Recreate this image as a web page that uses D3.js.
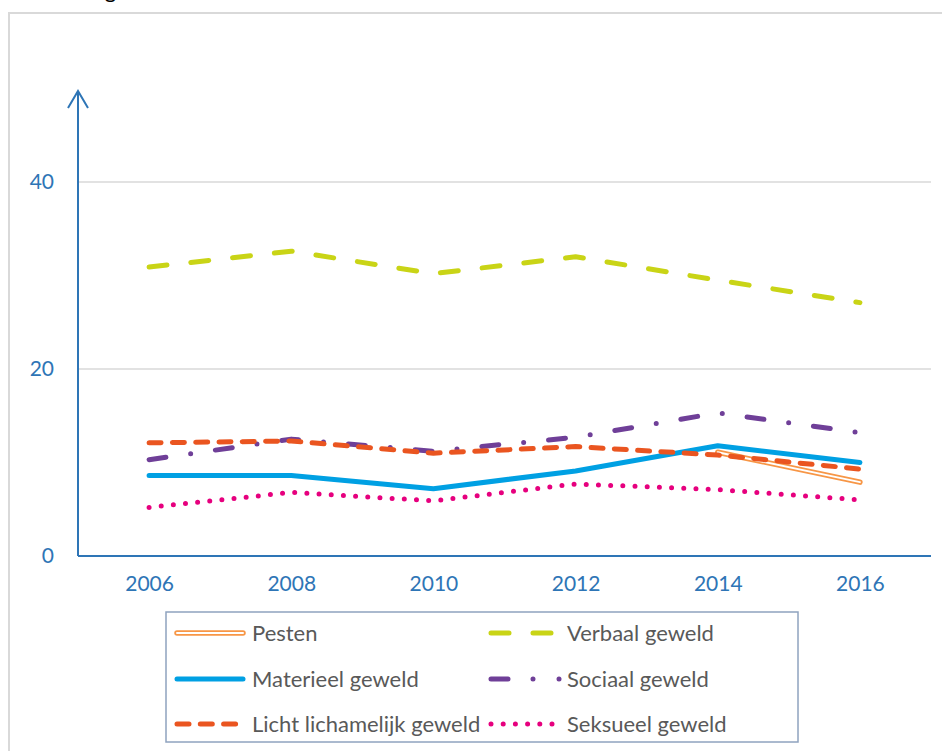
<!DOCTYPE html>
<html><head><meta charset="utf-8">
<script src="https://cdn.jsdelivr.net/npm/d3@7"></script>
<style>body{margin:0;background:#fff}svg{display:block}</style>
</head><body>
<script>
const years = ["2006","2008","2010","2012","2014","2016"];
const yTicks = [0,20,40];
const pesten = [null,null,null,null,11.1,7.9];
const verbaal = [30.9,32.6,30.2,32.0,29.5,27.1];
const materieel = [8.6,8.6,7.2,9.1,11.8,10.0];
const sociaal = [10.3,12.5,11.2,12.7,15.3,13.2];
const licht = [12.1,12.3,11.0,11.7,10.8,9.3];
const seksueel = [5.2,6.8,5.9,7.7,7.1,6.0];
const seriesNames = ["Pesten","Verbaal geweld","Materieel geweld","Sociaal geweld","Licht lichamelijk geweld","Seksueel geweld"];

const W=942,H=751;
const svg=d3.select("body").append("svg").attr("width",W).attr("height",H);
const font="Lato, 'Open Sans', sans-serif";

// outer frame
svg.append("rect").attr("x",9).attr("y",13).attr("width",940).attr("height",760)
  .attr("fill","none").attr("stroke","#d9d9d9").attr("stroke-width",2);
// clipped title remnant (cut off at the top edge, as in the reference)
svg.append("text").attr("x",20).attr("y",-2).attr("font-family",font).attr("font-size",22)
  .attr("fill","#000").text("Percentage");

const x=d3.scalePoint().domain(years).range([78,931]).padding(0.5);
const y=d3.scaleLinear().domain([0,50]).range([556,88.5]);

// gridlines
svg.append("g").selectAll("line").data(yTicks.filter(d=>d>0)).join("line")
  .attr("x1",78).attr("x2",931).attr("y1",d=>y(d)).attr("y2",d=>y(d))
  .attr("stroke","#d9d9d9").attr("stroke-width",1.5);

const axisColor="#2E75B6";
// y axis
const ya=svg.append("g").attr("transform","translate(78,0)")
  .call(d3.axisLeft(y).tickValues(yTicks).tickSize(0).tickPadding(24).tickFormat(d3.format("d")));
ya.select(".domain").remove();
ya.selectAll("text").attr("font-family",font).attr("font-size",21).attr("fill",axisColor);
svg.append("line").attr("x1",78).attr("x2",78).attr("y1",y(0)).attr("y2",91)
  .attr("stroke",axisColor).attr("stroke-width",2);
svg.append("path").attr("d",`M68,108 L78,91 L88,108`).attr("fill","none")
  .attr("stroke",axisColor).attr("stroke-width",2);

// x axis
const xa=svg.append("g").attr("transform",`translate(0,${y(0)})`)
  .call(d3.axisBottom(x).tickSize(0).tickPadding(20));
xa.select(".domain").attr("stroke",axisColor).attr("stroke-width",2).attr("d","M78,0H931");
xa.selectAll("text").attr("font-family",font).attr("font-size",21).attr("fill",axisColor);

const styles={
  "Pesten":{data:pesten,color:"#F79646",double:true},
  "Verbaal geweld":{data:verbaal,color:"#C9D416",dash:"18,24"},
  "Materieel geweld":{data:materieel,color:"#00A0E3"},
  "Sociaal geweld":{data:sociaal,color:"#6F3F98",dash:"17,25,0,25"},
  "Licht lichamelijk geweld":{data:licht,color:"#EA5520",dash:"12,11.3"},
  "Seksueel geweld":{data:seksueel,color:"#E6007E",dash:"0,12.2"}
};
const line=d3.line().defined(d=>d.v!=null).x(d=>x(d.k)).y(d=>y(d.v)).curve(d3.curveLinear);
const order=["Verbaal geweld","Seksueel geweld","Sociaal geweld","Materieel geweld","Pesten","Licht lichamelijk geweld"];
order.forEach(n=>{
  const s=styles[n];
  const pts=years.map((k,i)=>({k,v:s.data[i]}));
  if(s.double){
    svg.append("path").attr("d",line(pts)).attr("fill","none").attr("stroke",s.color)
      .attr("stroke-width",5.5).attr("stroke-linecap","round");
    svg.append("path").attr("d",line(pts)).attr("fill","none").attr("stroke","#fff")
      .attr("stroke-width",2).attr("stroke-linecap","round");
  } else {
    svg.append("path").attr("d",line(pts)).attr("fill","none").attr("stroke",s.color)
      .attr("stroke-width",5).attr("stroke-linecap","round").attr("stroke-linejoin","round")
      .attr("stroke-dasharray",s.dash||null);
  }
});

// legend
svg.append("rect").attr("x",166).attr("y",612).attr("width",632).attr("height",130)
  .attr("fill","#fff").attr("stroke","#8FA3BF").attr("stroke-width",1.5);
const rowsY=[633,679,724];
seriesNames.forEach((n,i)=>{
  const s=styles[n];
  const col=i%2,row=Math.floor(i/2);
  const x0=col===0?177:491, x1=col===0?243:(n==="Sociaal geweld"?558:556), tx=col===0?252:567;
  const yy=rowsY[row];
  if(s.double){
    svg.append("line").attr("x1",x0).attr("x2",x1).attr("y1",yy).attr("y2",yy)
      .attr("stroke",s.color).attr("stroke-width",5.5).attr("stroke-linecap","round");
    svg.append("line").attr("x1",x0).attr("x2",x1).attr("y1",yy).attr("y2",yy)
      .attr("stroke","#fff").attr("stroke-width",2).attr("stroke-linecap","round");
  } else {
    svg.append("line").attr("x1",x0).attr("x2",x1).attr("y1",yy).attr("y2",yy)
      .attr("stroke",s.color).attr("stroke-width",5).attr("stroke-linecap","round")
      .attr("stroke-dasharray",s.dash||null);
  }
  if(n==="Sociaal geweld"){
    svg.append("circle").attr("cx",559).attr("cy",yy).attr("r",2.5).attr("fill",s.color);
  }
  svg.append("text").attr("x",tx).attr("y",yy).attr("dy","0.35em")
    .attr("font-family",font).attr("font-size",22).attr("fill","#595959").text(n);
});
</script>
</body></html>
